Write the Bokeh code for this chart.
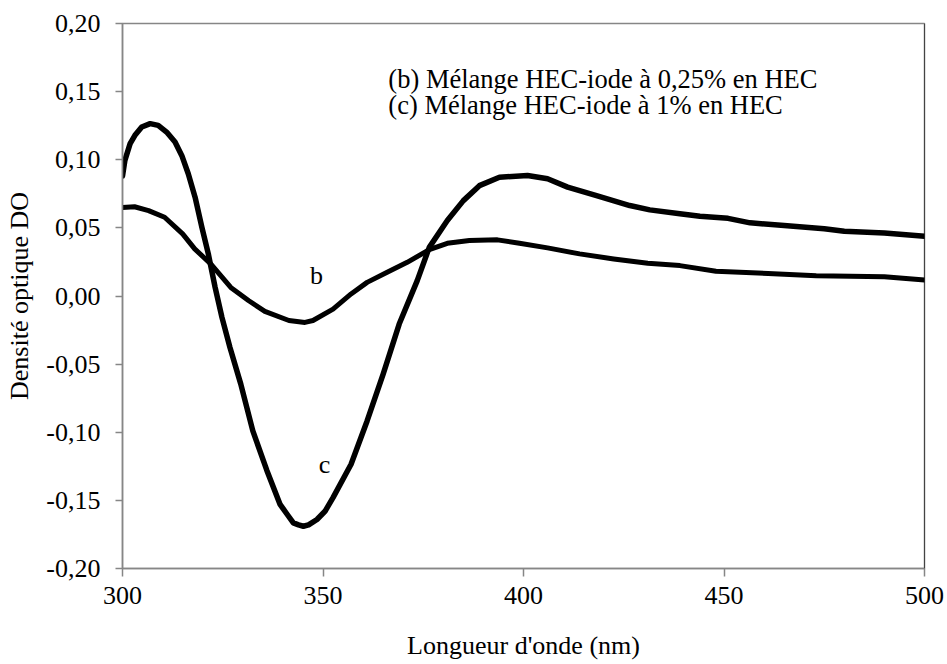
from bokeh.plotting import figure
from bokeh.models import Range1d, Label, Span, FixedTicker, CustomJSTickFormatter, Title
from bokeh.embed import file_html
from bokeh.resources import INLINE

# ---- data ----
wl_b = [300, 303, 306.5, 310.5, 315, 318, 322, 327, 331.5, 335.5, 341.5, 345.5, 347.5,
        352.5, 357, 361, 366, 371, 376.5, 381, 386.5, 393.5, 399, 406, 414, 422.5,
        431, 439, 448, 461, 473, 490, 500]
do_b = [0.065, 0.0655, 0.0627, 0.0578, 0.0456, 0.0346, 0.0235, 0.0063, -0.0035, -0.0113,
        -0.018, -0.0194, -0.018, -0.0096, 0.0015, 0.010, 0.0174, 0.0247, 0.034, 0.0387,
        0.0407, 0.0412, 0.0387, 0.0353, 0.0309, 0.0272, 0.024, 0.0223, 0.0181, 0.0166,
        0.0149, 0.0142, 0.0118]

wl_c = [300, 300.6, 301.9, 303.1, 304.8, 306.9, 308.9, 311, 313.1, 314.8, 316.4, 318.1,
        319.8, 321.4, 323.1, 324.8, 326.8, 329.5, 332.5, 336, 339.3, 341, 342.6, 343.9,
        345.1, 346.4, 348.5, 350.5, 352.5, 357, 361, 365, 369, 373.5, 376.5, 381, 385,
        389, 394, 401, 406, 411, 418, 426.5, 431.5, 439, 444, 451, 456.5, 465, 475,
        480, 490, 500]
do_c = [0.088, 0.0995, 0.1118, 0.1179, 0.124, 0.1265, 0.1252, 0.1203, 0.113, 0.103,
        0.0897, 0.0725, 0.0504, 0.0309, 0.0063, -0.0157, -0.0378, -0.0647, -0.099,
        -0.128, -0.153, -0.160, -0.1665, -0.168, -0.169, -0.168, -0.164, -0.158, -0.148,
        -0.1235, -0.0917, -0.0574, -0.0206, 0.0113, 0.0357, 0.0554, 0.070, 0.081,
        0.0872, 0.0885, 0.086, 0.0799, 0.0738, 0.0664, 0.0632, 0.0603, 0.0585, 0.057,
        0.0537, 0.0517, 0.0493, 0.0475, 0.0463, 0.0438]

x_ticks = [300, 350, 400, 450, 500]
y_ticks = [-0.20, -0.15, -0.10, -0.05, 0.00, 0.05, 0.10, 0.15, 0.20]

legend_lines = ["(b) Mélange HEC-iode à 0,25% en HEC",
                "(c) Mélange HEC-iode à 1% en HEC"]
x_title = "Longueur d'onde (nm)"
y_title = "Densité optique DO"

FONT = "Liberation Serif"

p = figure(width=947, height=664, output_backend="svg", toolbar_location=None,
           x_range=Range1d(300, 500), y_range=Range1d(-0.20, 0.20),
           min_border_left=122, min_border_right=23, min_border_top=23,
           min_border_bottom=96)
p.background_fill_color = "white"
p.border_fill_color = "white"
p.xgrid.visible = False
p.ygrid.visible = False
p.outline_line_color = "#868686"
p.outline_line_width = 1.5

for ax in (p.xaxis[0], p.yaxis[0]):
    ax.axis_line_color = "#868686"
    ax.axis_line_width = 1.5
    ax.major_tick_line_color = "#868686"
    ax.major_tick_line_width = 1.5
    ax.major_tick_in = 0
    ax.minor_tick_line_color = None
    ax.major_label_text_font = FONT
    ax.major_label_text_font_size = "26px"
    ax.major_label_text_color = "black"

p.xaxis[0].ticker = FixedTicker(ticks=x_ticks)
p.xaxis[0].major_tick_out = 8
p.xaxis[0].major_label_standoff = 10
# small spacer between tick labels and the title placed below
p.xaxis[0].axis_label = "\u00a0"
p.xaxis[0].axis_label_text_font_size = "1px"
p.xaxis[0].axis_label_standoff = 18

p.yaxis[0].ticker = FixedTicker(ticks=y_ticks)
p.yaxis[0].major_tick_out = 7
p.yaxis[0].major_label_standoff = 15
p.yaxis[0].formatter = CustomJSTickFormatter(code="return tick.toFixed(2).replace('.', ',');")

p.yaxis[0].axis_label = y_title
p.yaxis[0].axis_label_text_font = FONT
p.yaxis[0].axis_label_text_font_size = "26px"
p.yaxis[0].axis_label_text_font_style = "normal"
p.yaxis[0].axis_label_text_color = "black"
p.yaxis[0].axis_label_standoff = 9

xt = Title(text=x_title, align="center", offset=-31, text_font=FONT,
           text_font_size="26px", text_font_style="normal", text_color="black",
           standoff=0, vertical_align="bottom")
p.add_layout(xt, "below")

p.add_layout(Span(location=500, dimension="height", line_color="black", line_width=1))

p.line(wl_b, do_b, line_color="black", line_width=5, line_join="round", line_cap="round")
p.line(wl_c, do_c, line_color="black", line_width=5.5, line_join="round", line_cap="round")

def lab(x, y, t, size="26px", align="left", baseline="alphabetic"):
    p.add_layout(Label(x=x, y=y, text=t, text_font=FONT, text_font_size=size,
                       text_color="black", text_align=align, text_baseline=baseline))

lab(366.3, 0.159, legend_lines[0], size="26.5px")
lab(366.3, 0.1404, legend_lines[1], size="26.5px")
lab(348.4, 0.0149, "b", align="center")
lab(350.4, -0.1235, "c", align="center")

open("out.html", "w").write(file_html(p, INLINE))
